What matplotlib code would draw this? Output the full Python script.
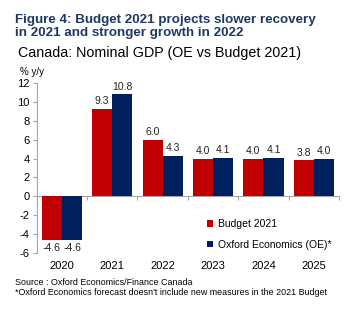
import numpy as np
import matplotlib.pyplot as plt

plt.rcParams['font.family'] = ['Liberation Sans', 'DejaVu Sans']
plt.rcParams['axes.unicode_minus'] = False

years = ['2020', '2021', '2022', '2023', '2024', '2025']
budget = [-4.6, 9.3, 6.0, 4.0, 4.0, 3.8]
oxford = [-4.6, 10.8, 4.3, 4.1, 4.1, 4.0]

red = '#C00000'
navy = '#002060'
grey = '#A6A6A6'

fig = plt.figure(figsize=(3.55, 3.27), dpi=100)
ax = fig.add_axes([0.1034, 0.2263, 0.8516, 0.5197])

x = np.arange(len(years))
w = 0.4
b1 = ax.bar(x - w / 2, budget, w, color=red, label='Budget 2021')
b2 = ax.bar(x + w / 2, oxford, w, color=navy, label='Oxford Economics (OE)*')
for bars in (b1, b2):
    ax.bar_label(bars, fmt='%.1f', fontsize=7.5, padding=2, color='#222222')

ax.set_xlim(-0.5, len(years) - 0.5)
ax.set_ylim(-6, 12)
ax.set_yticks(np.arange(-6, 13, 2))
ax.tick_params(axis='y', labelsize=8, length=3, color=grey, pad=2)

# category labels along the bottom, no tick marks
ax.set_xticks(x)
ax.set_xticklabels(years)
ax.tick_params(axis='x', labelsize=8, length=0, pad=6)

for s in ('top', 'right', 'bottom'):
    ax.spines[s].set_visible(False)
ax.spines['left'].set_color(grey)

# zero line with category separators
zero = ax.secondary_xaxis(6 / 18)
zero.spines['bottom'].set_color(grey)
zero.set_xticks(np.arange(len(years) + 1) - 0.5)
zero.set_xticklabels([])
zero.tick_params(length=3, color=grey, direction='out')

ax.legend(loc='lower left', bbox_to_anchor=(0.533, -0.035), frameon=False,
          fontsize=7.5, handlelength=0.6, handleheight=0.6, handletextpad=0.4,
          labelspacing=1.0)

title_col = '#1F3864'
fig.text(0.042, 0.957, 'Figure 4: Budget 2021 projects slower recovery\nin 2021 and stronger growth in 2022',
         fontsize=9.6, fontweight='bold', color=title_col, va='top', linespacing=1.15)
fig.text(0.05, 0.838, 'Canada: Nominal GDP (OE vs Budget 2021)', fontsize=10.3,
         color='black', va='center')
fig.text(0.055, 0.78, '% y/y', fontsize=7, va='center')
fig.text(0.042, 0.121, 'Source : Oxford Economics/Finance Canada\n'
         "*Oxford Economics forecast doesn't include new measures in the 2021 Budget",
         fontsize=6.4, va='center', linespacing=1.2)

fig.savefig('out.png', dpi=100)
